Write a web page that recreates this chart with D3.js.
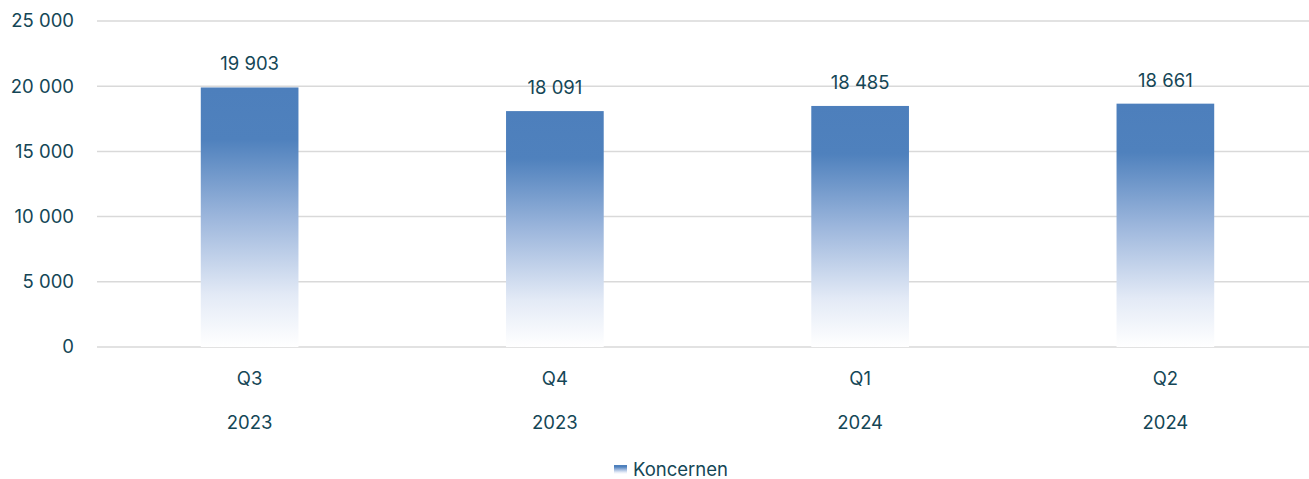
<!DOCTYPE html>
<html>
<head>
<meta charset="utf-8">
<script src="https://cdn.jsdelivr.net/npm/d3@7"></script>
<style>
  body { margin: 0; background: #fff; }
  text { font-family: Inter, "Open Sans", sans-serif; fill: #144656; }
</style>
</head>
<body>
<svg id="chart" width="1309" height="479"></svg>
<script>
const quarters = ['Q3', 'Q4', 'Q1', 'Q2'];
const years = ['2023', '2023', '2024', '2024'];
const values = [19903, 18091, 18485, 18661];
const yTicks = [0, 5000, 10000, 15000, 20000, 25000];
const seriesName = 'Koncernen';

const svg = d3.select('#chart');
const margin = {left: 97, right: 0, top: 21, bottom: 132};
const width = 1309 - margin.left - margin.right;
const height = 479 - margin.top - margin.bottom;
const fs = '18.5px';

const fmt = v => d3.format(',')(v).replace(/,/g, ' ');

const defs = svg.append('defs');
const grad = defs.append('linearGradient')
  .attr('id', 'barGrad').attr('x1', 0).attr('y1', 0).attr('x2', 0).attr('y2', 1);
[[0, '#4d7fbc'], [0.2, '#4f81bd'], [0.5, '#9cb6dc'], [0.8, '#e3eaf6'], [1, '#ffffff']]
  .forEach(([o, c]) => grad.append('stop').attr('offset', o).attr('stop-color', c));

const g = svg.append('g').attr('transform', `translate(${margin.left},${margin.top})`);

// the band range runs a little past the right edge, as in the original
const x = d3.scaleBand().domain(d3.range(quarters.length)).range([0, 1221])
  .paddingInner(0.68).paddingOuter(0.34);
const y = d3.scaleLinear().domain([0, 25000]).range([height, 0]);

// gridlines
g.selectAll('line.grid').data(yTicks).join('line')
  .attr('class', 'grid')
  .attr('x1', 0).attr('x2', width)
  .attr('y1', d => y(d)).attr('y2', d => y(d))
  .attr('stroke', '#d9d9d9').attr('stroke-width', 1.5);

// y labels
g.selectAll('text.ytick').data(yTicks).join('text')
  .attr('class', 'ytick')
  .attr('x', -23).attr('y', d => y(d)).attr('dy', '0.35em')
  .attr('text-anchor', 'end').style('font-size', fs)
  .text(fmt);

// bars
g.selectAll('rect.bar').data(values).join('rect')
  .attr('class', 'bar')
  .attr('x', (d, i) => x(i)).attr('width', x.bandwidth())
  .attr('y', d => y(d)).attr('height', d => height - y(d))
  .attr('fill', 'url(#barGrad)');

// value labels
g.selectAll('text.val').data(values).join('text')
  .attr('class', 'val')
  .attr('x', (d, i) => x(i) + x.bandwidth() / 2)
  .attr('y', d => y(d) - 17)
  .attr('text-anchor', 'middle').style('font-size', fs)
  .text(fmt);

// category labels
g.selectAll('text.q').data(quarters).join('text')
  .attr('class', 'q')
  .attr('x', (d, i) => x(i) + x.bandwidth() / 2)
  .attr('y', height + 38)
  .attr('text-anchor', 'middle').style('font-size', fs)
  .text(d => d);

g.selectAll('text.yr').data(years).join('text')
  .attr('class', 'yr')
  .attr('x', (d, i) => x(i) + x.bandwidth() / 2)
  .attr('y', height + 82)
  .attr('text-anchor', 'middle').style('font-size', fs)
  .text(d => d);

// legend
const lg = svg.append('g').attr('transform', 'translate(614,465)');
lg.append('rect').attr('width', 13).attr('height', 9).attr('fill', 'url(#barGrad)');
lg.append('text').attr('x', 19).attr('y', 5).attr('dy', '0.35em')
  .style('font-size', fs).text(seriesName);
</script>
</body>
</html>
